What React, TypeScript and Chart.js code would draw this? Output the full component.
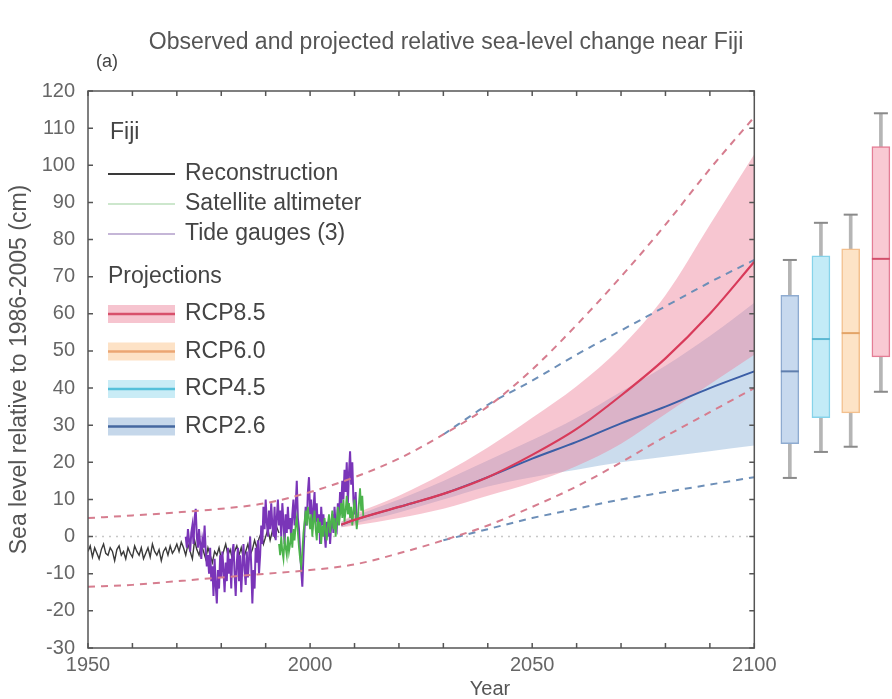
import React, { useEffect, useRef } from 'react';
import { Chart, registerables } from 'chart.js';

Chart.register(...registerables);

const FONT = "'Liberation Sans', Arial, Helvetica, sans-serif";

const titleText = 'Observed and projected relative sea-level change near Fiji';
const yTitleText = 'Sea level relative to 1986-2005 (cm)';
const xTitleText = 'Year';
const panelLabel = '(a)';

// axes
const yMin = -30;
const yMax = 120;
const yStep = 10;
const xMin = 1950;
const xMax = 2131;
const xStep = 10;
const xLabelYears = [1950, 2000, 2050, 2100];
const frameYears = [1950, 2100];

// observations
const reconStart = 1950;
const reconStep = 0.5;
const reconValues = [
  -4, -2.5, -5.5, -3, -4.5, -6, -3.5, -2, -4.5, -5,
  -3, -4, -6.5, -3.5, -2.5, -5, -4, -6, -3, -4.5,
  -5.5, -2.5, -4, -5, -3, -6, -4.5, -3, -5.5, -2,
  -4, -5, -3.5, -6.5, -4, -3, -5, -2.5, -4.5, -3.5,
  -2, -4, -1.5, -3, -5, -2, -4, -6, -1, -3.5,
  -5, -2, -4, -6, -3, -5, -7, -4, -5, -3,
  -6, -4, -2, -5, -3.5, -6, -4, -2.5, -5, -3,
  -6, -4, -2, -5, -3.5, -1, -3, -0.5, 1, -2,
  0, 2, -1, 1.5, 0, 2.5, 1,
];

const tideStart = 1972;
const tideStep = 0.25;
const tideValues = [
  0, -3, 2, -1,
  -4, 1, 3, -2,
  5, 7.5, 0, -3,
  2, -2, -6, -1,
  -3, 3, -4, -8,
  -5, -10, -3, -12,
  -8, -16, -6, -13,
  -18, -9, -14, -5,
  -11, -4, -9, -15,
  -7, -12, -3, -10,
  -6, -14, -4, -2,
  -10, -16, -7, -3,
  -12, -5, -15, -8,
  -2, -9, -13, -4,
  -11, -6, 0, -8,
  -18, -9, -14, -3,
  -7, -1, -10, -5,
  3, -2, 8, 2,
  10, 4, 0, 7,
  2, 9, 3, 0,
  8, -1, 5, 10,
  3, 7, 0, 9,
  4, -2, 6, 1,
  8, 2, 5, -1,
  6, 10, 3, 8,
  15, 5, 2, -4,
  -9, -13.5, -5, 2,
  8, 3, 12, 16,
  6, 10, 2, 7,
  12, 4, 9, 1,
  6, -2, 8, 3,
  6, 1, -3, 4,
  0, 5, -2, 3,
  6, 1, 8, 3,
  2, 9, 5, 12,
  8, 15, 10, 18,
  12, 20, 9, 17,
  23, 14, 20, 10,
  6, 12, 4,
];

const satStart = 1993;
const satStep = 0.25;
const satValues = [
  -2, -5, 0, -4,
  -6, -1, -3, -5,
  0, -4, -2, 1,
  -3, 2, -1, 3,
  5, 1, -3, -6,
  -8, -4, 1, 4,
  7, 3, 8, 5,
  2, 6, 0, 4,
  7, 2, -1, 5,
  1, 4, -2, 3,
  0, 5, 2, -1,
  3, 6, 1, 4,
  7, 2, 5, 0,
  4, 8, 3, 6,
  9, 5, 10, 4,
  7, 11, 6, 9,
  5, 8, 3, 7,
  10, 6, 2, 5,
  9, 13, 7, 11,
  5,
];

// projections
const projYears = [2007, 2010, 2020, 2030, 2040, 2050, 2060, 2070, 2080, 2090, 2100];
const rcp85Median = [3.2, 4.5, 8, 11.5, 16, 22, 29, 38, 48, 60, 74];
const rcp85Lower = [2.5, 3, 5, 7.5, 11, 14.5, 19, 25, 33, 41, 49];
const rcp85Upper = [4, 6, 11, 17, 24, 32, 40.5, 51, 65, 84, 103];
const rcp26Median = [3.2, 4.5, 8, 11.5, 16, 21, 25.5, 30.5, 35, 40, 44.5];
const rcp26Lower = [2.5, 3.5, 6.5, 10, 13.5, 16, 18, 20, 21.5, 23, 24.5];
const rcp26Upper = [4, 5.5, 10, 15, 20.5, 26, 32, 39, 46, 54, 63];

const envYears = [1950, 1960, 1970, 1980, 1990, 2000, 2010, 2020, 2030, 2040, 2050, 2060, 2070, 2080, 2090, 2100];
const rcp85EnvUpper = [5, 5.7, 6.5, 7.5, 9, 12, 16, 21, 27.5, 35, 45, 57, 70, 84, 99, 113];
const rcp85EnvLower = [-13.5, -13, -12, -11, -10, -9, -7.5, -4.5, -1, 3, 8, 13.5, 20, 27, 33.5, 40];
const rcp26EnvYears = [2030, 2040, 2050, 2060, 2070, 2080, 2090, 2100];
const rcp26EnvUpper = [27.5, 35.5, 42, 49, 55.5, 62, 68.5, 74.5];
const rcp26EnvLower = [-1, 2, 5, 7.5, 10, 12, 14, 16];

const zeroYears = [1950, 2100];
const zeroValues = [0, 0];

// 2100 box plots
const boxScenarios = ['RCP2.6', 'RCP4.5', 'RCP6.0', 'RCP8.5'];
const boxPositions = [2108, 2115, 2121.7, 2128.5];
const boxMin = [15.8, 22.8, 24.2, 39];
const boxQ1 = [25, 32, 33.3, 48.4];
const boxMedian = [44.5, 53.2, 54.8, 74.8];
const boxQ3 = [65, 75.6, 77.5, 105];
const boxMax = [74.5, 84.5, 86.7, 114];
const boxFill = ['#c7d9ee', '#c3ebf7', '#fde3c6', '#f9c9d3'];
const boxBorder = ['#8eabd0', '#86d3ea', '#f3c08e', '#e47d95'];
const boxMedianColor = ['#5f7fae', '#5cb8d2', '#e3a468', '#d24f6b'];

// legend
const legendHeader = 'Fiji';
const obsLegendLabels = ['Reconstruction', 'Satellite altimeter', 'Tide gauges (3)'];
const obsLegendColors = ['#3a3a3a', '#9ccf9c', '#8c6fb0'];
const projHeader = 'Projections';
const projLegendLabels = ['RCP8.5', 'RCP6.0', 'RCP4.5', 'RCP2.6'];
const projLegendBand = ['#f6c4cf', '#fde2c6', '#c9ecf6', '#c5d7ea'];
const projLegendLine = ['#d8506b', '#eba673', '#55c0da', '#44679f'];

const pairs = (xs: number[], ys: number[]) => xs.map((x, i) => ({ x, y: ys[i] }));
const stepped = (start: number, step: number, ys: number[]) => ys.map((y, i) => ({ x: start + i * step, y }));

const lineBase = { type: 'line', pointRadius: 0, fill: false, tension: 0 } as any;

const framePlugin = {
  id: 'frameAndLegend',
  afterDatasetsDraw(chart: any) {
    const { ctx, chartArea, scales } = chart;
    const xs = scales.x;
    const ys = scales.y;
    const l = xs.getPixelForValue(frameYears[0]);
    const r = xs.getPixelForValue(frameYears[1]);
    const t = chartArea.top;
    const b = chartArea.bottom;
    ctx.save();
    ctx.strokeStyle = '#555';
    ctx.lineWidth = 1.5;
    ctx.beginPath();
    ys.ticks.forEach((tk: any) => {
      const py = ys.getPixelForValue(tk.value);
      ctx.moveTo(l, py);
      ctx.lineTo(l + 5, py);
      ctx.moveTo(r, py);
      ctx.lineTo(r - 5, py);
    });
    xs.ticks.forEach((tk: any) => {
      if (tk.value < frameYears[0] || tk.value > frameYears[1]) return;
      const px = xs.getPixelForValue(tk.value);
      ctx.moveTo(px, b);
      ctx.lineTo(px, b - 5);
      ctx.moveTo(px, t);
      ctx.lineTo(px, t + 5);
    });
    ctx.stroke();
    ctx.strokeRect(l, t, r - l, b - t);
    ctx.restore();
  },
  afterDraw(chart: any) {
    const { ctx, chartArea } = chart;
    const L = chartArea.left;
    const T = chartArea.top;
    ctx.save();
    ctx.textBaseline = 'middle';
    ctx.textAlign = 'left';
    ctx.fillStyle = '#444';
    ctx.font = `18px ${FONT}`;
    ctx.fillText(panelLabel, L + 8, T - 29);

    ctx.font = `23px ${FONT}`;
    ctx.fillStyle = '#444';
    ctx.fillText(legendHeader, L + 22, T + 42);
    obsLegendLabels.forEach((lab, i) => {
      const yy = T + 83 + i * 30;
      ctx.strokeStyle = obsLegendColors[i];
      ctx.lineWidth = i === 0 ? 1.8 : 1.2;
      ctx.beginPath();
      ctx.moveTo(L + 20, yy);
      ctx.lineTo(L + 87, yy);
      ctx.stroke();
      ctx.fillStyle = '#444';
      ctx.fillText(lab, L + 97, yy);
    });
    ctx.fillText(projHeader, L + 20, T + 186);
    projLegendLabels.forEach((lab, i) => {
      const yy = T + 223 + i * 37.5;
      ctx.fillStyle = projLegendBand[i];
      ctx.fillRect(L + 20, yy - 9, 67, 18);
      ctx.strokeStyle = projLegendLine[i];
      ctx.lineWidth = 2.5;
      ctx.beginPath();
      ctx.moveTo(L + 20, yy);
      ctx.lineTo(L + 87, yy);
      ctx.stroke();
      ctx.fillStyle = '#444';
      ctx.fillText(lab, L + 97, yy);
    });
    ctx.restore();
  },
};

export default function App() {
  const ref = useRef<HTMLCanvasElement | null>(null);

  useEffect(() => {
    if (!ref.current) return;
    const datasets: any[] = [
      // projections medians
      { ...lineBase, label: 'RCP8.5 median', data: pairs(projYears, rcp85Median), borderColor: '#d83a5a', borderWidth: 2.2, cubicInterpolationMode: 'monotone', order: 1 },
      { ...lineBase, label: 'RCP2.6 median', data: pairs(projYears, rcp26Median), borderColor: '#3b5ea6', borderWidth: 2, cubicInterpolationMode: 'monotone', order: 2 },
      // envelopes
      { ...lineBase, label: 'RCP8.5 upper', data: pairs(envYears, rcp85EnvUpper), borderColor: '#d67d8f', borderWidth: 2, borderDash: [7, 6], cubicInterpolationMode: 'monotone', order: 3 },
      { ...lineBase, label: 'RCP8.5 lower', data: pairs(envYears, rcp85EnvLower), borderColor: '#d67d8f', borderWidth: 2, borderDash: [7, 6], cubicInterpolationMode: 'monotone', order: 3 },
      { ...lineBase, label: 'RCP2.6 upper', data: pairs(rcp26EnvYears, rcp26EnvUpper), borderColor: '#6d8fb8', borderWidth: 2, borderDash: [7, 6], cubicInterpolationMode: 'monotone', order: 4 },
      { ...lineBase, label: 'RCP2.6 lower', data: pairs(rcp26EnvYears, rcp26EnvLower), borderColor: '#6d8fb8', borderWidth: 2, borderDash: [7, 6], cubicInterpolationMode: 'monotone', order: 4 },
      // observations
      { ...lineBase, label: 'Satellite altimeter', data: stepped(satStart, satStep, satValues), borderColor: '#4cb34c', borderWidth: 1.8, order: 5 },
      { ...lineBase, label: 'Tide gauges (3)', data: stepped(tideStart, tideStep, tideValues), borderColor: '#7a35b8', borderWidth: 2, order: 6 },
      { ...lineBase, label: 'Reconstruction', data: stepped(reconStart, reconStep, reconValues), borderColor: '#3a3a3a', borderWidth: 1.4, order: 7 },
      { ...lineBase, label: 'zero', data: pairs(zeroYears, zeroValues), borderColor: '#c8c8c8', borderWidth: 1.5, borderDash: [2, 5], order: 8 },
      // bands
      { ...lineBase, label: 'RCP8.5 band low', data: pairs(projYears, rcp85Lower), borderWidth: 0, borderColor: 'rgba(0,0,0,0)', cubicInterpolationMode: 'monotone', order: 9 },
      { ...lineBase, label: 'RCP8.5 band high', data: pairs(projYears, rcp85Upper), borderWidth: 0, borderColor: 'rgba(0,0,0,0)', fill: '-1', backgroundColor: 'rgba(238,128,152,0.45)', cubicInterpolationMode: 'monotone', order: 9 },
      { ...lineBase, label: 'RCP2.6 band low', data: pairs(projYears, rcp26Lower), borderWidth: 0, borderColor: 'rgba(0,0,0,0)', cubicInterpolationMode: 'monotone', order: 10 },
      { ...lineBase, label: 'RCP2.6 band high', data: pairs(projYears, rcp26Upper), borderWidth: 0, borderColor: 'rgba(0,0,0,0)', fill: '-1', backgroundColor: 'rgba(130,172,212,0.42)', cubicInterpolationMode: 'monotone', order: 10 },
      // box plots
      {
        type: 'bar', label: 'whiskers', grouped: false, barThickness: 3,
        data: boxPositions.map((p, i) => ({ x: p, y: [boxMin[i], boxMax[i]] })),
        backgroundColor: '#b5b5b5', borderWidth: 0, order: -1,
      },
      {
        type: 'bar', label: 'boxes', grouped: false, barThickness: 18,
        data: boxPositions.map((p, i) => ({ x: p, y: [boxQ1[i], boxQ3[i]] })),
        backgroundColor: boxFill, borderColor: boxBorder, borderWidth: 1.5, borderSkipped: false, order: -2,
      },
      {
        type: 'line', label: 'medians', showLine: false,
        data: boxPositions.map((p, i) => ({ x: p, y: boxMedian[i] })),
        pointStyle: 'line', pointRadius: 9, pointBorderWidth: 2, pointBorderColor: boxMedianColor, order: -3,
      },
      {
        type: 'line', label: 'caps', showLine: false,
        data: boxPositions.flatMap((p, i) => [{ x: p, y: boxMin[i] }, { x: p, y: boxMax[i] }]),
        pointStyle: 'line', pointRadius: 7, pointBorderWidth: 2, pointBorderColor: '#8a8a8a', order: -3,
      },
    ];

    const chart = new Chart(ref.current, {
      type: 'line',
      data: { datasets },
      options: {
        responsive: false,
        animation: false,
        events: [],
        layout: { padding: 0, autoPadding: false },
        plugins: {
          legend: { display: false },
          tooltip: { enabled: false },
          title: {
            display: true,
            text: titleText,
            color: '#555',
            font: { family: FONT, size: 23, weight: 'normal' },
            padding: { top: 29, bottom: 34.4 },
          },
        },
        scales: {
          x: {
            type: 'linear',
            min: xMin,
            max: xMax,
            offset: false,
            grid: { display: false, drawTicks: false },
            border: { display: false },
            ticks: {
              stepSize: xStep,
              autoSkip: false,
              maxRotation: 0,
              padding: 0,
              color: '#666',
              font: { family: FONT, size: 20, lineHeight: 1.7 },
              callback: (v: any) => (xLabelYears.includes(Math.round(Number(v))) ? String(Math.round(Number(v))) : ''),
            },
            title: {
              display: true,
              text: xTitleText,
              color: '#555',
              font: { family: FONT, size: 20, lineHeight: 1 },
              padding: { top: 0, bottom: 0 },
            },
            afterFit: (s: any) => { s.height = 51; },
          },
          y: {
            type: 'linear',
            min: yMin,
            max: yMax,
            grid: { display: false, drawTicks: false },
            border: { display: false },
            ticks: { stepSize: yStep, padding: 13, color: '#666', font: { family: FONT, size: 20 } },
            title: {
              display: true,
              text: yTitleText,
              color: '#555',
              font: { family: FONT, size: 23, lineHeight: 1 },
              padding: { top: 8.5, bottom: 0 },
            },
            afterFit: (s: any) => { s.width = 88; },
          },
        },
      } as any,
      plugins: [framePlugin],
    } as any);
    return () => chart.destroy();
  }, []);

  return (
    <div style={{ position: 'absolute', left: 0, top: 0, width: 892, height: 699, background: '#fff' }}>
      <canvas ref={ref} width={892} height={699} style={{ display: 'block', width: 892, height: 699 }} />
    </div>
  );
}
